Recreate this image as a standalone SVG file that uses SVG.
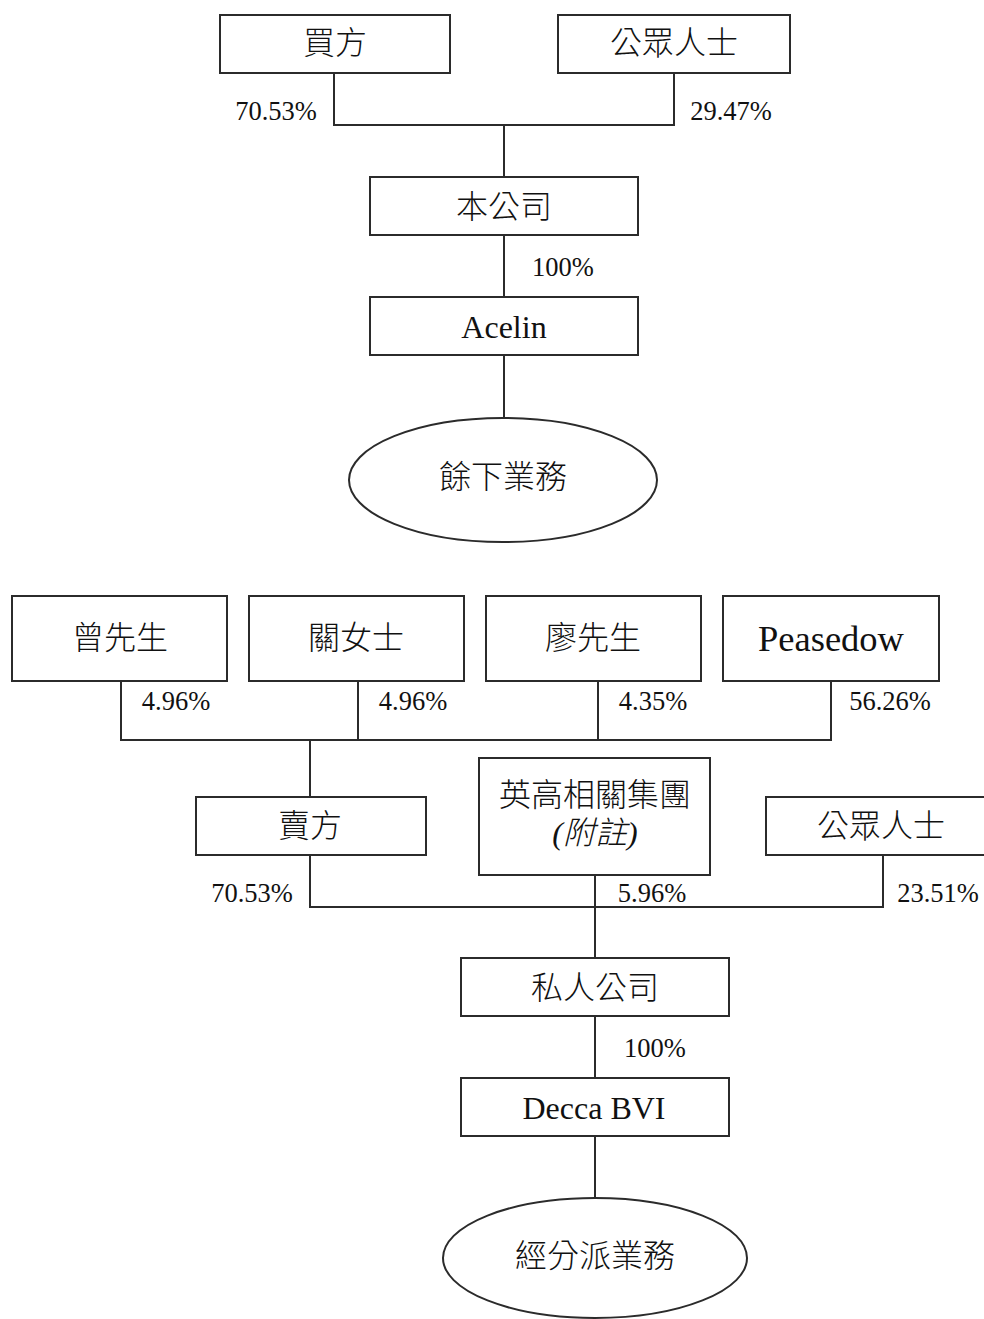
<svg xmlns="http://www.w3.org/2000/svg" width="984" height="1319" viewBox="0 0 984 1319">
<style>
.b{fill:#fff;stroke:#2b2b2b;stroke-width:2}
.t{font-family:"Liberation Serif","Noto Sans CJK TC",serif;font-size:32px;font-weight:300;fill:#111;text-anchor:middle;dominant-baseline:central}
.p{font-family:"Liberation Serif","Noto Sans CJK TC",serif;font-size:26.5px;fill:#111;text-anchor:middle;dominant-baseline:central}
.c{fill:none;stroke:#2b2b2b;stroke-width:2}
</style>
<rect width="984" height="1319" fill="#fff"/>
<g id="connectors">
<path class="c" d="M334 73V125H674V73M504 125V177"/>
<path class="c" d="M504 235V297M504 355V417"/>
<path class="c" d="M121 681V740H831V681M358 681V740M598 681V740M310 740V797"/>
<path class="c" d="M310 855V907H883V855M595 875V958"/>
<path class="c" d="M595 1016V1078M595 1136V1198"/>
</g>
<g id="labels">
<text class="p" x="276" y="111">70.53%</text>
<text class="p" x="731" y="111">29.47%</text>
<text class="p" x="563" y="267">100%</text>
<text class="p" x="176" y="701">4.96%</text>
<text class="p" x="413" y="701">4.96%</text>
<text class="p" x="653" y="701">4.35%</text>
<text class="p" x="890" y="701">56.26%</text>
<text class="p" x="252" y="893">70.53%</text>
<text class="p" x="652" y="893">5.96%</text>
<text class="p" x="938" y="893">23.51%</text>
<text class="p" x="655" y="1048">100%</text>
</g>
<g id="buyer"><rect class="b" x="220" y="15" width="230" height="58"/><text class="t" x="335" y="43">買方</text></g>
<g id="public1"><rect class="b" x="558" y="15" width="232" height="58"/><text class="t" x="674" y="43">公眾人士</text></g>
<g id="company"><rect class="b" x="370" y="177" width="268" height="58"/><text class="t" x="504" y="207">本公司</text></g>
<g id="acelin"><rect class="b" x="370" y="297" width="268" height="58"/><text class="t" x="504" y="327">Acelin</text></g>
<g id="remaining"><ellipse class="b" cx="503" cy="480" rx="154" ry="62"/><text class="t" x="503" y="477">餘下業務</text></g>
<g id="tsang"><rect class="b" x="12" y="596" width="215" height="85"/><text class="t" x="120" y="638">曾先生</text></g>
<g id="kwan"><rect class="b" x="249" y="596" width="215" height="85"/><text class="t" x="356" y="638">關女士</text></g>
<g id="liu"><rect class="b" x="486" y="596" width="215" height="85"/><text class="t" x="593" y="638">廖先生</text></g>
<g id="peasedow"><rect class="b" x="723" y="596" width="216" height="85"/><text class="t" x="831" y="638" style="font-size:36.5px">Peasedow</text></g>
<g id="seller"><rect class="b" x="196" y="797" width="230" height="58"/><text class="t" x="310" y="826">賣方</text></g>
<g id="ingo"><rect class="b" x="479" y="758" width="231" height="117"/><text class="t" x="595" y="795">英高相關集團</text><text class="t" x="595" y="833" style="font-style:italic">(附註)</text></g>
<g id="public2"><rect class="b" x="766" y="797" width="230" height="58"/><text class="t" x="881" y="826">公眾人士</text></g>
<g id="private"><rect class="b" x="461" y="958" width="268" height="58"/><text class="t" x="595" y="988">私人公司</text></g>
<g id="decca"><rect class="b" x="461" y="1078" width="268" height="58"/><text class="t" x="594" y="1108">Decca BVI</text></g>
<g id="distribution"><ellipse class="b" cx="595" cy="1258" rx="152" ry="60"/><text class="t" x="595" y="1256">經分派業務</text></g>
</svg>
